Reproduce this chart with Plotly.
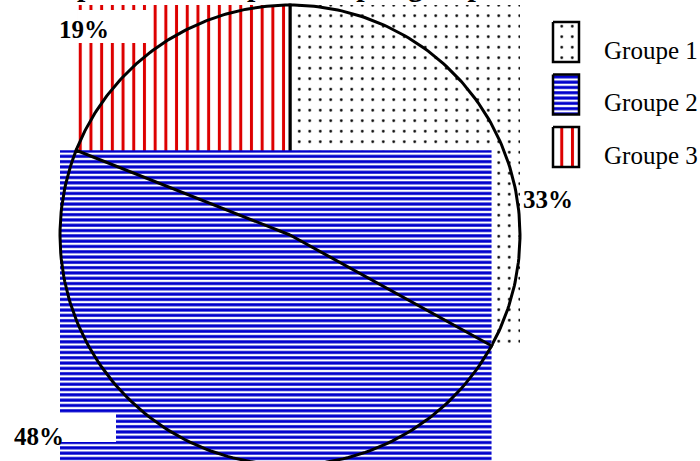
import numpy as np
import plotly.graph_objects as go

# ---------------- data ----------------
labels = ["Groupe 1", "Groupe 2", "Groupe 3"]
values = [33, 48, 19]
title_text = "Répartition des patients par groupe"

# ---------------- style ----------------
W, H = 700, 461
CX, CY, R = 290, 235, 230
SERIF = "Liberation Serif, Times New Roman, serif"
pattern_styles = [
    dict(shape=".", fgcolor="black", bgcolor="white", size=10.5, solidity=0.05, fgopacity=1),
    dict(shape="-", fgcolor="#0000cc", bgcolor="white", size=5.3, solidity=0.58, fgopacity=1),
    dict(shape="|", fgcolor="#dd0000", bgcolor="white", size=10.7, solidity=0.28, fgopacity=1),
]
draw_order = [0, 2, 1]
label_pos = [(548, 199), (39, 436), (84, 29)]
white_boxes = [None, (60, 413, 116, 442), (78, 10, 150, 43)]

fig = go.Figure()

total = float(sum(values))
cum = 0.0
geo = []
for v in values:
    a0 = 90 - 360 * cum / total
    a1 = a0 - 360 * v / total
    cum += v
    geo.append((a0, a1))


def pt(a):
    r = np.radians(a)
    return CX + R * np.cos(r), CY - R * np.sin(r)


for i in draw_order:
    a0, a1 = geo[i]
    xs = [CX, pt(a0)[0], pt(a1)[0]]
    ys = [CY, pt(a0)[1], pt(a1)[1]]
    for k in range(-4, 5):
        ang = 90 * k
        if a1 <= ang <= a0:
            px, py = pt(ang)
            xs.append(px)
            ys.append(py)
    x0, x1, y0, y1 = min(xs), max(xs), min(ys), max(ys)
    fig.add_trace(go.Scatter(
        x=[x0, x1, x1, x0, x0], y=[y0, y0, y1, y1, y0],
        mode="lines", fill="toself", line=dict(width=0),
        fillcolor="white", fillpattern=pattern_styles[i],
        hoverinfo="skip", showlegend=False))
    th = np.linspace(a0, a1, 120)
    ax, ay = pt(th)
    ox = np.concatenate([[CX], ax, [CX]])
    oy = np.concatenate([[CY], ay, [CY]])
    fig.add_trace(go.Scatter(x=ox, y=oy, mode="lines",
                             line=dict(color="black", width=3),
                             hoverinfo="skip", showlegend=False))

# legend drawn as patterned boxes
for i, lab in enumerate(labels):
    top = 22 + 52.5 * i
    bx0, bx1, by0, by1 = 553, 579, top, top + 40
    fig.add_trace(go.Scatter(
        x=[bx0, bx1, bx1, bx0, bx0], y=[by0, by0, by1, by1, by0],
        mode="lines", fill="toself", line=dict(color="black", width=2.5),
        fillcolor="white", fillpattern=pattern_styles[i],
        hoverinfo="skip", showlegend=False))
    fig.add_annotation(x=602, y=top + 28, text=lab, showarrow=False,
                       xanchor="left", yanchor="middle",
                       font=dict(family=SERIF, size=25, color="black"))

shapes = []
for b in white_boxes:
    if b:
        shapes.append(dict(type="rect", x0=b[0], y0=b[1], x1=b[2], y1=b[3],
                           fillcolor="white", line=dict(width=0), layer="above"))

for i, v in enumerate(values):
    fig.add_annotation(x=label_pos[i][0], y=label_pos[i][1], text=f"<b>{v}%</b>",
                       showarrow=False, xanchor="center", yanchor="middle",
                       font=dict(family=SERIF, size=25, color="black"))

fig.add_annotation(x=270, y=1 + 14.5 / H, xref="x", yref="paper",
                   text=f"<b>{title_text}</b>", showarrow=False,
                   xanchor="center", yanchor="middle",
                   font=dict(family=SERIF, size=30, color="black"))

fig.update_layout(
    width=W, height=H, margin=dict(l=0, r=0, t=0, b=0),
    paper_bgcolor="white", plot_bgcolor="white",
    xaxis=dict(range=[0, W], visible=False, fixedrange=True),
    yaxis=dict(range=[H, 0], visible=False, fixedrange=True),
    shapes=shapes, showlegend=False,
)
fig.write_html("out.html", config={"displayModeBar": False},
               post_script="document.body.style.margin='0';document.body.style.overflow='hidden';")
